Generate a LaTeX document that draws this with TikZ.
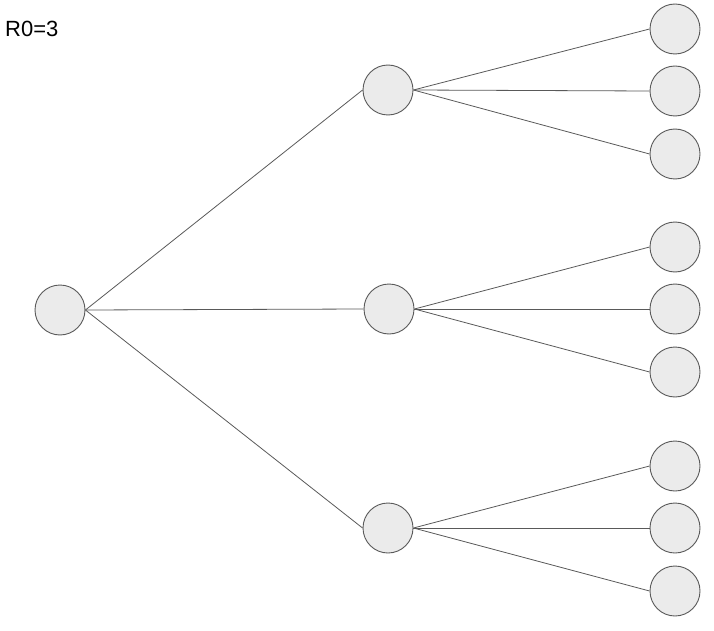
\documentclass[tikz,border=0pt]{standalone}
\usepackage{fontspec}
\setmainfont{Liberation Sans}
\definecolor{cfill}{HTML}{EBEBEB}
\definecolor{cline}{HTML}{595959}
\begin{document}
\begin{tikzpicture}[x=1pt,y=-1pt,
  ball/.style={circle,draw=cline,fill=cfill,line width=0.9pt,minimum size=50pt,inner sep=0pt},
  edge/.style={draw=cline,line width=0.8pt}]
\useasboundingbox (0,0) rectangle (714,631);
\node[anchor=base west,font=\fontsize{22}{25}\selectfont,inner sep=0pt] (lbl) at (5,37) {R0=3};
\node[ball] (r) at (60,310) {};
\node[ball] (m1) at (388,90) {};
\node[ball] (m2) at (389,309) {};
\node[ball] (m3) at (388,528) {};
\node[ball] (l1) at (675,29) {};
\node[ball] (l2) at (675,91) {};
\node[ball] (l3) at (675,154) {};
\node[ball] (l4) at (675,247) {};
\node[ball] (l5) at (675,309) {};
\node[ball] (l6) at (675,372) {};
\node[ball] (l7) at (675,466) {};
\node[ball] (l8) at (675,528) {};
\node[ball] (l9) at (675,591) {};
\foreach \m in {m1,m2,m3} \draw[edge] (r.east) -- (\m.west);
\foreach \l in {l1,l2,l3} \draw[edge] (m1.east) -- (\l.west);
\foreach \l in {l4,l5,l6} \draw[edge] (m2.east) -- (\l.west);
\foreach \l in {l7,l8,l9} \draw[edge] (m3.east) -- (\l.west);
\end{tikzpicture}
\end{document}
